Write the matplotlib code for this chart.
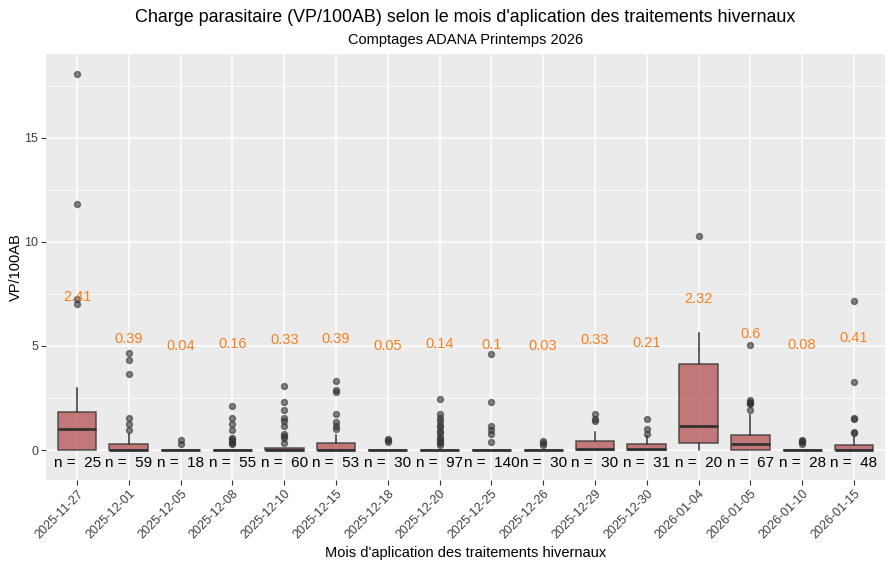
import numpy as np
import matplotlib.pyplot as plt

plt.rcParams['font.family'] = ['Liberation Sans', 'DejaVu Sans']

dates = ['2025-11-27', '2025-12-01', '2025-12-05', '2025-12-08', '2025-12-10',
         '2025-12-15', '2025-12-18', '2025-12-20', '2025-12-25', '2025-12-26',
         '2025-12-29', '2025-12-30', '2026-01-04', '2026-01-05', '2026-01-10',
         '2026-01-15']
n_obs = [25, 59, 18, 55, 60, 53, 30, 97, 140, 30, 30, 31, 20, 67, 28, 48]
means = [2.41, 0.39, 0.04, 0.16, 0.33, 0.39, 0.05, 0.14, 0.1, 0.03,
         0.33, 0.21, 2.32, 0.6, 0.08, 0.41]

q1 = [0, 0, 0, 0, 0, 0, 0, 0, 0, 0, 0, 0, 0.32, 0, 0, 0]
med = [1.02, 0.0, 0, 0, 0.02, 0.0, 0, 0, 0, 0, 0.06, 0.03, 1.17, 0.3, 0, 0.02]
q3 = [1.81, 0.27, 0, 0, 0.08, 0.32, 0, 0, 0, 0, 0.42, 0.27, 4.12, 0.7, 0, 0.22]
whis_hi = [2.96, 0.75, 0, 0, 0.08, 0.7, 0, 0, 0, 0, 0.86, 0.68, 5.6, 1.66, 0, 0.61]
whis_lo = [0] * 16

outliers = [
    [7.0, 7.24, 11.8, 18.05],
    [0.96, 1.25, 1.55, 3.64, 4.31, 4.64],
    [0.27, 0.48],
    [0.29, 0.35, 0.43, 0.51, 0.58, 0.96, 1.25, 1.55, 2.1],
    [0.35, 0.56, 0.67, 0.78, 1.14, 1.39, 1.52, 1.9, 2.29, 3.06],
    [1.0, 1.15, 1.33, 1.73, 2.79, 2.88, 3.31],
    [0.4, 0.46, 0.51],
    [0.24, 0.32, 0.43, 0.53, 0.64, 0.8, 0.91, 1.09, 1.18, 1.38, 1.55, 1.71, 2.43],
    [0.37, 0.77, 0.96, 1.15, 2.29, 4.6],
    [0.22, 0.32, 0.43],
    [1.38, 1.47, 1.71],
    [0.76, 0.99, 1.47],
    [10.28],
    [1.92, 2.2, 2.27, 2.33, 2.4, 5.03],
    [0.3, 0.38, 0.45, 0.5],
    [0.8, 0.88, 1.49, 1.54, 3.25, 7.14],
]

stats = []
for i in range(len(dates)):
    stats.append({'med': med[i], 'q1': q1[i], 'q3': q3[i],
                  'whislo': whis_lo[i], 'whishi': whis_hi[i],
                  'fliers': outliers[i], 'label': dates[i]})

fig = plt.figure(figsize=(8.93, 5.67), dpi=100)
ax = fig.add_axes([46 / 893, 1 - 480 / 567, (885 - 46) / 893, (480 - 54) / 567])
ax.set_facecolor('#EBEBEB')

pos = np.arange(1, len(dates) + 1)
ax.bxp(stats, positions=pos, widths=0.75, patch_artist=True, showcaps=False,
       boxprops=dict(facecolor='#b85c5c', alpha=0.8, edgecolor='#333333', linewidth=1.1),
       medianprops=dict(color='#333333', linewidth=2.0),
       whiskerprops=dict(color='#333333', linewidth=1.1),
       flierprops=dict(marker='o', markerfacecolor='#333333', markeredgecolor='#333333',
                       markersize=4.3, alpha=0.6, linestyle='none'),
       zorder=3)

for i, p in enumerate(pos):
    ax.text(p, means[i] + 4.95, f'{means[i]:g}', ha='center', va='center',
            color='#F8801E', fontsize=10.5, zorder=4)
    ax.text(p, -0.62, 'n =  ' + str(n_obs[i]), ha='center', va='center',
            color='black', fontsize=11, zorder=4)

ax.set_xlim(0.4, len(dates) + 0.6)
ax.set_ylim(-1.44, 19.02)
ax.set_yticks([0, 5, 10, 15])
ax.set_yticks([2.5, 7.5, 12.5, 17.5], minor=True)
ax.set_xticks(pos)
ax.set_xticklabels(dates, rotation=45, ha='right', rotation_mode='anchor')
ax.grid(True, which='major', color='white', linewidth=1.1, zorder=0)
ax.grid(True, which='minor', axis='y', color='white', linewidth=0.55, zorder=0)
ax.set_axisbelow(True)
for s in ax.spines.values():
    s.set_visible(False)
ax.tick_params(axis='both', which='major', length=3.5, color='#333333',
               labelcolor='#404040', labelsize=9, pad=2)
ax.tick_params(axis='y', which='minor', length=0)

ax.set_xlabel("Mois d'aplication des traitements hivernaux", fontsize=10.5, labelpad=3)
ax.set_ylabel('VP/100AB', fontsize=10.5, labelpad=1)

fig.text((46 + 885) / 2 / 893, 1 - 18 / 567,
         "Charge parasitaire (VP/100AB) selon le mois d'aplication des traitements hivernaux",
         ha='center', va='center', fontsize=12.9)
fig.text((46 + 885) / 2 / 893, 1 - 40 / 567, 'Comptages ADANA Printemps 2026',
         ha='center', va='center', fontsize=10.5)

fig.savefig('out.png', dpi=100)
